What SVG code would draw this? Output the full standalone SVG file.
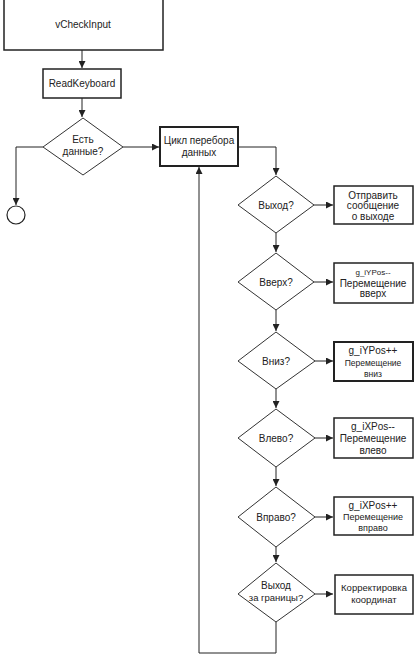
<svg xmlns="http://www.w3.org/2000/svg" width="414" height="656" viewBox="0 0 414 656">
<style>
.box{fill:#fff;stroke:#222;stroke-width:1.5}
.thick{stroke-width:2}
.dia{fill:#fff;stroke:#333;stroke-width:1}
.t{font-family:"Liberation Sans",Arial,sans-serif;font-size:10px;fill:#222;text-anchor:middle}
.c{fill:none;stroke:#222;stroke-width:1}
</style>
<defs>
<marker id="ah" viewBox="0 0 8 8" refX="8" refY="4" markerWidth="7" markerHeight="7" markerUnits="userSpaceOnUse" orient="auto">
<path d="M0,0 L8,4 L0,8 z" fill="#222"/>
</marker>
</defs>
<rect width="414" height="656" fill="#fff"/>
<g id="connectors">
<path class="c" d="M82,50 V68" marker-end="url(#ah)"/>
<path class="c" d="M82,98 V117" marker-end="url(#ah)"/>
<path class="c" d="M43,147 H16 V205" marker-end="url(#ah)"/>
<path class="c" d="M123,147 H159" marker-end="url(#ah)"/>
<path class="c" d="M238,147 H276 V175" marker-end="url(#ah)"/>
<path class="c" d="M314,205 H333" marker-end="url(#ah)"/>
<path class="c" d="M276,233 V252" marker-end="url(#ah)"/>
<path class="c" d="M314,282 H333" marker-end="url(#ah)"/>
<path class="c" d="M276,310 V331" marker-end="url(#ah)"/>
<path class="c" d="M315,361 H333" marker-end="url(#ah)"/>
<path class="c" d="M276,389 V408" marker-end="url(#ah)"/>
<path class="c" d="M315,438 H333" marker-end="url(#ah)"/>
<path class="c" d="M276,467 V486" marker-end="url(#ah)"/>
<path class="c" d="M315,517 H333" marker-end="url(#ah)"/>
<path class="c" d="M276,547 V562" marker-end="url(#ah)"/>
<path class="c" d="M315,594 H333" marker-end="url(#ah)"/>
<path class="c" d="M276,622 V653 H199 V167" marker-end="url(#ah)"/>
</g>
<g id="n-vcheckinput">
<rect class="box" x="4" y="-1" width="159" height="51"/>
<text class="t" x="83" y="28">vCheckInput</text>
</g>
<g id="n-readkeyboard">
<rect class="box" x="43" y="69" width="78" height="29"/>
<text class="t" x="82" y="87">ReadKeyboard</text>
</g>
<g id="n-est-dannye">
<polygon class="dia" points="83,118 123,147 83,175 43,147"/>
<text class="t" x="83" y="143">Есть</text>
<text class="t" x="83" y="155">данные?</text>
</g>
<g id="n-end">
<circle cx="16" cy="215" r="9" fill="#fff" stroke="#222" stroke-width="1.2"/>
</g>
<g id="n-cikl">
<rect class="box thick" x="160" y="127" width="78" height="39"/>
<text class="t" x="199" y="144">Цикл перебора</text>
<text class="t" x="199" y="156">данных</text>
</g>
<g id="n-vyhod">
<polygon class="dia" points="276,176 314,205 276,233 238,205"/>
<text class="t" x="276" y="209">Выход?</text>
</g>
<g id="n-otpravit">
<rect class="box" x="334" y="186" width="79" height="38"/>
<text class="t" x="373" y="199">Отправить</text>
<text class="t" x="373" y="209">сообщение</text>
<text class="t" x="373" y="220">о выходе</text>
</g>
<g id="n-vverh">
<polygon class="dia" points="276,253 314,282 276,310 238,282"/>
<text class="t" x="276" y="286">Вверх?</text>
</g>
<g id="n-ypos-minus">
<rect class="box" x="334" y="263" width="79" height="40"/>
<text class="t" x="373" y="275" style="font-size:8px">g_iYPos--</text>
<text class="t" x="373" y="287">Перемещение</text>
<text class="t" x="373" y="297">вверх</text>
</g>
<g id="n-vniz">
<polygon class="dia" points="276,332 315,361 276,389 238,361"/>
<text class="t" x="276" y="365">Вниз?</text>
</g>
<g id="n-ypos-plus">
<rect class="box thick" x="334" y="342" width="79" height="39"/>
<text class="t" x="373" y="354">g_iYPos++</text>
<text class="t" x="373" y="366" style="font-size:8.5px">Перемещение</text>
<text class="t" x="373" y="377" style="font-size:8.5px">вниз</text>
</g>
<g id="n-vlevo">
<polygon class="dia" points="276,409 315,438 276,467 238,438"/>
<text class="t" x="276" y="442">Влево?</text>
</g>
<g id="n-xpos-minus">
<rect class="box" x="334" y="418" width="79" height="40"/>
<text class="t" x="373" y="430">g_iXPos--</text>
<text class="t" x="373" y="442">Перемещение</text>
<text class="t" x="373" y="454">влево</text>
</g>
<g id="n-vpravo">
<polygon class="dia" points="276,487 315,517 276,547 238,517"/>
<text class="t" x="276" y="521">Вправо?</text>
</g>
<g id="n-xpos-plus">
<rect class="box" x="334" y="497" width="79" height="38"/>
<text class="t" x="373" y="509">g_iXPos++</text>
<text class="t" x="373" y="520" style="font-size:9px">Перемещение</text>
<text class="t" x="373" y="531" style="font-size:9px">вправо</text>
</g>
<g id="n-granicy">
<polygon class="dia" points="276,563 315,594 276,622 238,594"/>
<text class="t" x="276" y="589">Выход</text>
<text class="t" x="276" y="601" style="font-size:9.5px">за границы?</text>
</g>
<g id="n-korrekt">
<rect class="box" x="335" y="575" width="78" height="39"/>
<text class="t" x="374" y="591" style="font-size:9.5px">Корректировка</text>
<text class="t" x="374" y="603" style="font-size:9.5px">координат</text>
</g>
</svg>
